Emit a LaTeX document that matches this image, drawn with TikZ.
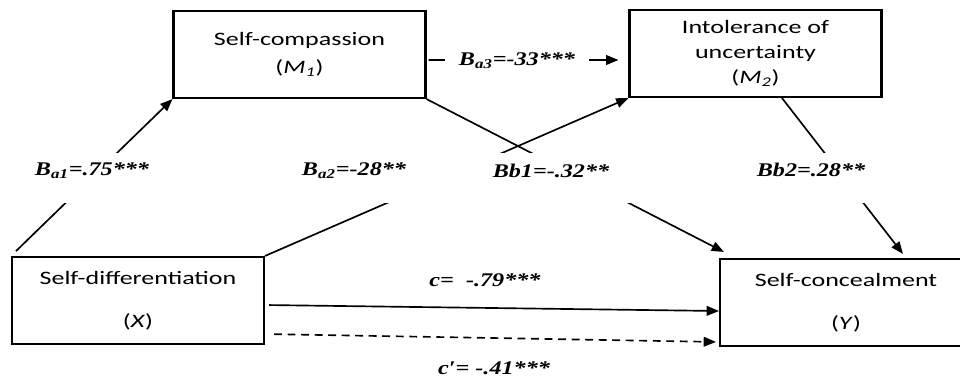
\documentclass[tikz,border=0pt]{standalone}
\usepackage{fontspec}
\usepackage{tikz}
\usetikzlibrary{arrows.meta}
\newfontfamily\boxfont[FakeStretch=1.37]{Carlito}
\newfontfamily\coeffont[FakeStretch=1.25]{Liberation Serif}

\begin{document}
\begin{tikzpicture}[
  x=0.02cm, y=-0.02cm,
  var/.style={draw, line width=1.2pt, minimum width=5.04cm, minimum height=1.74cm, inner sep=0pt, align=center, font=\boxfont\fontsize{10.8}{15.3}\selectfont},
  coef/.style={inner sep=1pt, font=\coeffont\bfseries\itshape\fontsize{11}{13}\selectfont},
  arr/.style={-{Triangle[length=7pt, width=5.5pt]}, line width=0.95pt}
]
  \clip (0,0) rectangle (960,383);
  \node[var] (comp) at (299.5,54.5) {Self-compassion\\[1pt](\textit{M}\textsubscript{\textit{1}})};
  \node[var] (intol) at (755.5,53.5) {\raisebox{-3pt}{Intolerance of}\\[-1pt]\raisebox{-3pt}{uncertainty}\\[-1pt]\raisebox{-3pt}{(\textit{M}\textsubscript{\textit{2}})}};
  \node[var] (diff) at (138,300.5) {Self-differentiation\\[9pt](\textit{X})};
  \node[var] (conc) at (846,302.5) {Self-concealment\\[9pt](\textit{Y})};

  % paths through the mediators
  \draw[arr, shorten <=0.14cm] (diff.north west) -- (comp.south west);
  \draw[arr] (diff.north east) -- (intol.south west);
  \draw[arr] (comp.south east) -- ([xshift=0.1cm, yshift=0.12cm]conc.north west);
  \draw[arr] ([xshift=0.53cm]intol.south) -- ([xshift=1.14cm, yshift=0.08cm]conc.north);
  \draw[arr, shorten <=0.04cm, shorten >=0.2cm] ([yshift=-0.11cm]comp.east) -- ([yshift=-0.13cm]intol.west);
  % total and direct effects
  \draw[arr, shorten <=0.08cm] ([yshift=-0.09cm]diff.east) -- ([yshift=-0.17cm]conc.west);
  \draw[arr, dash pattern=on 4.5pt off 3.2pt, shorten <=0.18cm, shorten >=0.06cm] ([yshift=-0.67cm]diff.east) -- ([yshift=-0.79cm]conc.west);

  \fill[white] (0,153) rectangle (960,203);
  \node[coef] (ba1) at (92,171) {B\textsubscript{a1}=.75***};
  \node[coef] (ba2) at (354,171) {B\textsubscript{a2}=-28**};
  \node[coef] (bb1) at (551,171) {Bb1=-.32**};
  \node[coef] (bb2) at (811,170) {Bb2=.28**};
  \node[coef, fill=white, minimum width=2.88cm] (ba3) at (517,61) {B\textsubscript{a3}=-33***};
  \node[coef] (c) at (485,280) {c=\ \ -.79***};
  \node[coef] (cp) at (494,368) {c′= -.41***};
\end{tikzpicture}
\end{document}
